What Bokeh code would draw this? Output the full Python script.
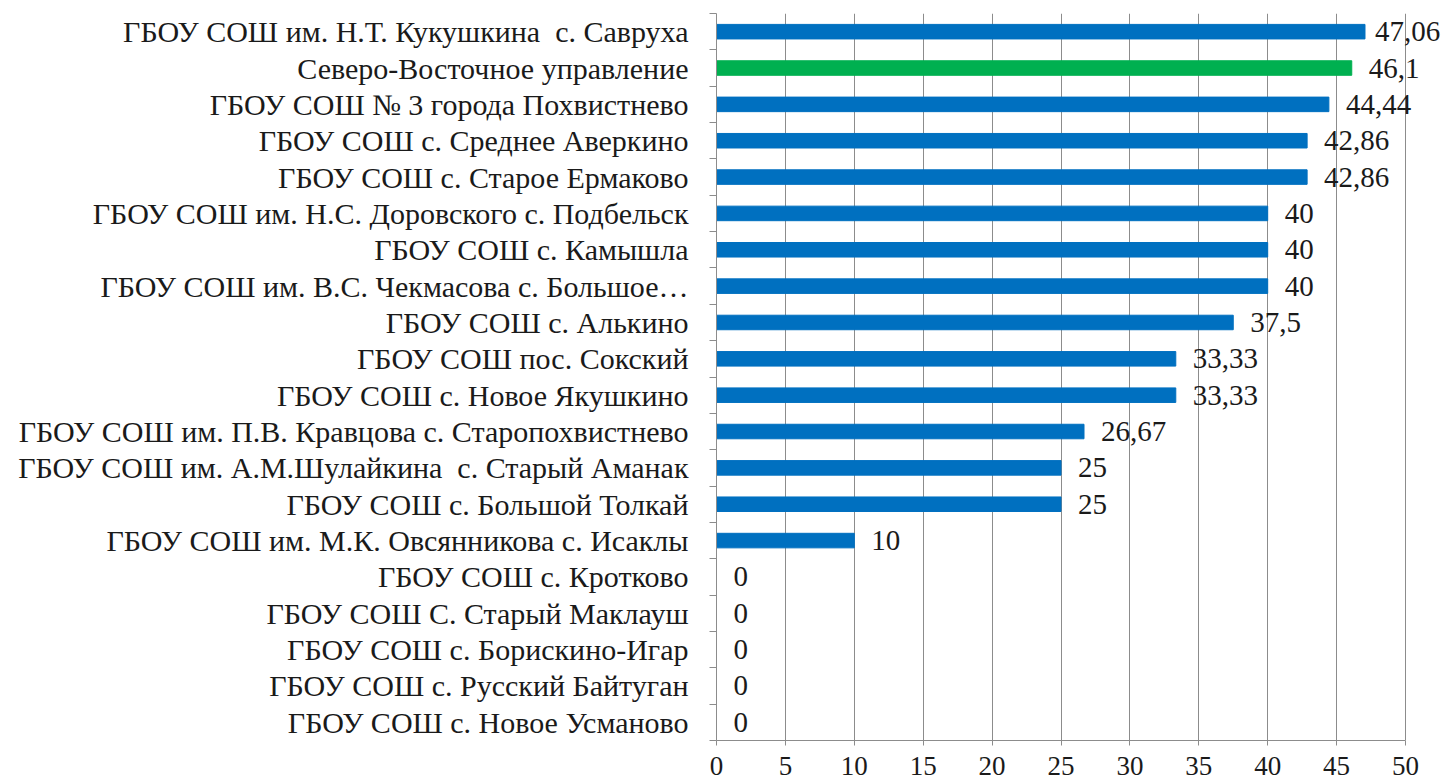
from bokeh.plotting import figure
from bokeh.models import ColumnDataSource, LabelSet, FixedTicker, Range1d
from bokeh.core.properties import value
from bokeh.embed import file_html
from bokeh.resources import INLINE

categories = [
    "ГБОУ СОШ им. Н.Т. Кукушкина\u00a0 с. Савруха",
    "Северо-Восточное управление",
    "ГБОУ СОШ № 3 города Похвистнево",
    "ГБОУ СОШ с. Среднее Аверкино",
    "ГБОУ СОШ с. Старое Ермаково",
    "ГБОУ СОШ им. Н.С. Доровского с. Подбельск",
    "ГБОУ СОШ с. Камышла",
    "ГБОУ СОШ им. В.С. Чекмасова с. Большое…",
    "ГБОУ СОШ с. Алькино",
    "ГБОУ СОШ пос. Сокский",
    "ГБОУ СОШ с. Новое Якушкино",
    "ГБОУ СОШ им. П.В. Кравцова с. Старопохвистнево",
    "ГБОУ СОШ им. А.М.Шулайкина\u00a0 с. Старый Аманак",
    "ГБОУ СОШ с. Большой Толкай",
    "ГБОУ СОШ им. М.К. Овсянникова с. Исаклы",
    "ГБОУ СОШ с. Кротково",
    "ГБОУ СОШ С. Старый Маклауш",
    "ГБОУ СОШ с. Борискино-Игар",
    "ГБОУ СОШ с. Русский Байтуган",
    "ГБОУ СОШ с. Новое Усманово",
]
values = [47.06, 46.1, 44.44, 42.86, 42.86, 40, 40, 40, 37.5, 33.33,
          33.33, 26.67, 25, 25, 10, 0, 0, 0, 0, 0]
highlight = "Северо-Восточное управление"
x_ticks = [0, 5, 10, 15, 20, 25, 30, 35, 40, 45, 50]

BLUE = "#0070C0"
GREEN = "#00B050"
GRID = "#8C8C8C"
FONT = "Liberation Serif"

# layout (pixels)
W, H = 1450, 782
FRAME_LEFT, AXIS_END, FRAME_TOP, FRAME_BOTTOM = 716, 1405, 13, 740

n = len(categories)
centers = [i + 0.5 for i in range(n)]
bounds = [float(i) for i in range(n + 1)]
colors = [GREEN if c == highlight else BLUE for c in categories]
labels = [("%g" % v).replace(".", ",") for v in values]
vmax = max(values)
offsets = [10 if v == vmax else 17 for v in values]

x_max = x_ticks[-1]
x_end = x_max * (W - FRAME_LEFT) / (AXIS_END - FRAME_LEFT)

source = ColumnDataSource(dict(y=centers, v=values, c=colors, lab=labels, off=offsets))

p = figure(width=W, height=H, output_backend="svg", toolbar_location=None,
           x_range=Range1d(0, x_end), y_range=Range1d(n, 0),
           min_border_left=FRAME_LEFT, min_border_right=0, min_border_top=FRAME_TOP,
           min_border_bottom=H - FRAME_BOTTOM)
p.outline_line_color = None
p.background_fill_color = "white"
p.border_fill_color = "white"

p.hbar(y="y", left=0, right="v", height=0.4, color="c", source=source)

p.add_layout(LabelSet(x="v", y="y", text="lab", x_offset="off", source=source,
                      text_baseline="middle", text_align="left",
                      text_font=value(FONT), text_font_size="29px", text_color="#1a1a1a"))

# x axis
p.xaxis.ticker = FixedTicker(ticks=x_ticks)
p.xaxis.bounds = (0, x_max)
p.xaxis.axis_line_color = GRID
p.xaxis.major_tick_line_color = GRID
p.xaxis.major_tick_out = 5
p.xaxis.major_tick_in = 0
p.xaxis.minor_tick_line_color = None
p.xaxis.major_label_text_font = FONT
p.xaxis.major_label_text_font_size = "27px"
p.xaxis.major_label_text_color = "#1a1a1a"
p.xaxis.major_label_text_line_height = 0.8
p.xaxis.major_label_standoff = 11

# y axis
p.yaxis.ticker = FixedTicker(ticks=centers, minor_ticks=bounds)
p.yaxis.bounds = (0, n)
p.yaxis.major_label_overrides = {c: name for c, name in zip(centers, categories)}
p.yaxis.axis_line_color = GRID
p.yaxis.major_tick_line_color = None
p.yaxis.major_tick_out = 0
p.yaxis.major_tick_in = 0
p.yaxis.minor_tick_line_color = GRID
p.yaxis.minor_tick_out = 7
p.yaxis.minor_tick_in = 0
p.yaxis.major_label_standoff = 21
p.yaxis.major_label_text_font = FONT
p.yaxis.major_label_text_font_size = "30px"
p.yaxis.major_label_text_color = "#1a1a1a"

p.xgrid.ticker = FixedTicker(ticks=x_ticks)
p.xgrid.grid_line_color = GRID
p.ygrid.grid_line_color = None

open("out.html", "w").write(file_html(p, INLINE))
